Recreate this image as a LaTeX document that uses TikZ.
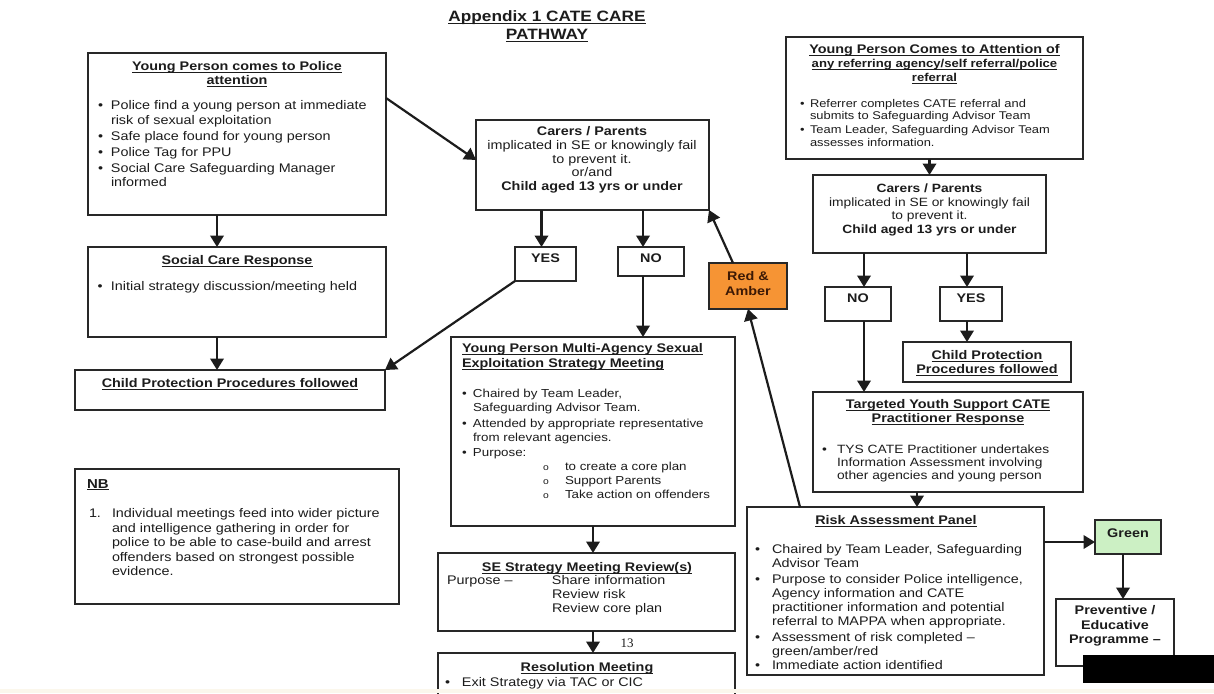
\documentclass[tikz,border=0pt]{standalone}
\usepackage{fontspec}
\setmainfont{Liberation Sans}[FakeStretch=1.15]
\newfontfamily\pagenumfont{Liberation Serif}
\usetikzlibrary{arrows.meta}

\definecolor{ink}{RGB}{28,28,28}
\definecolor{edge}{RGB}{40,40,40}
\definecolor{amber}{RGB}{246,148,52}
\definecolor{amberink}{RGB}{60,25,5}
\definecolor{greenfill}{RGB}{204,240,196}
\definecolor{paper}{RGB}{251,247,236}

% underline at a fixed depth below the baseline
\newcommand{\ulx}[1]{\leavevmode\setbox0\hbox{#1}\rlap{\rule[-0.17em]{\wd0}{0.075em}}\box0}
% bullet of a given box width, and the matching hanging indent
\newcommand{\bulx}[1]{\makebox[#1][l]{\textbullet}}
\newcommand{\skx}[1]{\hspace*{#1}}
\newcommand{\fsz}[2]{\fontsize{#1}{#2}\selectfont}
\newcommand{\subo}{{\fsz{9}{9}o}}

\begin{document}
\begin{tikzpicture}[x=1pt,y=-1pt,
  box/.style={draw=edge, line width=1.3pt, inner sep=0pt, outer sep=0pt},
  arr/.style={draw=ink, line width=2.2pt, -{Triangle[length=11.5pt,width=13.5pt]}},
  lbl/.style={inner sep=0pt, outer sep=0pt, text=ink, anchor=north, align=center, font=\fsz{12.5}{14}},
  head/.style={lbl, font=\bfseries\fsz{12.5}{14}},
  para/.style={lbl, anchor=north west, align=left}]
\useasboundingbox (0,0) rectangle (1214,693);

% ---------- title ----------
\node[lbl, font=\bfseries\fsz{15}{18}] (title) at (547,10.6)
  {\ulx{Appendix 1 CATE CARE}\\\ulx{PATHWAY}};

% ---------- boxes ----------
\node[box, minimum width=298pt, minimum height=162pt] (A) at (237,134) {};
\node[box, minimum width=298pt, minimum height=90pt] (SC) at (237,292) {};
\node[box, minimum width=310pt, minimum height=40pt] (CPL) at (230,390) {};
\node[box, minimum width=324pt, minimum height=135pt] (NB) at (237,536.5) {};
\node[box, minimum width=233pt, minimum height=90pt] (B) at (592.5,165) {};
\node[box, minimum width=61pt, minimum height=34pt] (YESM) at (545.5,264) {};
\node[box, minimum width=66pt, minimum height=29pt] (NOM) at (651,261.5) {};
\node[box, fill=amber, minimum width=78pt, minimum height=46pt] (RA) at (748,286) {};
\node[box, minimum width=284pt, minimum height=189pt] (MA) at (593,431.5) {};
\node[box, minimum width=297pt, minimum height=78pt] (SE) at (586.5,592) {};
\node[box, minimum width=297pt, minimum height=52pt] (RES) at (586.5,679) {};
\node[box, minimum width=297pt, minimum height=122pt] (R1) at (934.5,98) {};
\node[box, minimum width=233pt, minimum height=78pt] (R2) at (929.5,214) {};
\node[box, minimum width=66pt, minimum height=34pt] (NOR) at (858,304) {};
\node[box, minimum width=62pt, minimum height=34pt] (YESR) at (971,304) {};
\node[box, minimum width=168pt, minimum height=40pt] (CPR) at (987,362) {};
\node[box, minimum width=270pt, minimum height=100pt] (TYS) at (948,442) {};
\node[box, minimum width=297pt, minimum height=168pt] (RISK) at (895.5,591) {};
\node[box, fill=greenfill, minimum width=66pt, minimum height=34pt] (GREEN) at (1128,537) {};
\node[box, minimum width=118pt, minimum height=67pt] (PREV) at (1115,632.5) {};

% ---------- left column ----------
\node[head] (Ahead) at (237,61.5)
  {\ulx{Young Person comes to Police}\\\ulx{attention}};
\node[para, font=\fsz{12.5}{14.5}] (Abody) at (98,100.5)
  {\bulx{13pt}Police find a young person at immediate\\
   \skx{13pt}risk of sexual exploitation\\[1.5pt]
   \bulx{13pt}Safe place found for young person\\[1.5pt]
   \bulx{13pt}Police Tag for PPU\\[1.5pt]
   \bulx{13pt}Social Care Safeguarding Manager\\
   \skx{13pt}informed};

\node[head] (SChead) at (237,255.5) {\ulx{Social Care Response}};
\node[para] (SCbody) at (97.5,281.5) {\bulx{13.5pt}Initial strategy discussion/meeting held};

\node[head] (CPLtext) at (230,378.5) {\ulx{Child Protection Procedures followed}};

\node[para, font=\bfseries\fsz{13}{14}] (NBhead) at (87,479.3) {\ulx{NB}};
\node[para, font=\fsz{12.5}{14.5}] (NBbody) at (89,508.5)
  {\makebox[23pt][l]{1.}Individual meetings feed into wider picture\\
   \skx{23pt}and intelligence gathering in order for\\
   \skx{23pt}police to be able to case-build and arrest\\
   \skx{23pt}offenders based on strongest possible\\
   \skx{23pt}evidence.};

% ---------- middle column ----------
\node[lbl, font=\fsz{12.5}{13.75}] (Btext) at (592,126.5)
  {\textbf{Carers / Parents}\\implicated in SE or knowingly fail\\to prevent it.\\or/and\\\textbf{Child aged 13 yrs or under}};

\node[head] (YESMt) at (545.5,253.5) {YES};
\node[head] (NOMt) at (651,253.5) {NO};
\node[lbl, font=\bfseries\fsz{12.5}{15}, text=amberink] (RAt) at (748,271.5) {Red \&\\Amber};

\node[para, font=\bfseries\fsz{12.5}{15}] (MAhead) at (462,343.5)
  {\ulx{Young Person Multi-Agency Sexual}\\\ulx{Exploitation Strategy Meeting}};
\node[para, font=\fsz{11.6}{14}] (MAbody) at (462,389)
  {\bulx{11pt}Chaired by Team Leader,\\
   \skx{11pt}Safeguarding Advisor Team.\\[2pt]
   \bulx{11pt}Attended by appropriate representative\\
   \skx{11pt}from relevant agencies.\\[1pt]
   \bulx{11pt}Purpose:\\
   \skx{81pt}\makebox[22pt][l]{\subo}to create a core plan\\
   \skx{81pt}\makebox[22pt][l]{\subo}Support Parents\\
   \skx{81pt}\makebox[22pt][l]{\subo}Take action on offenders};

\node[head] (SEhead) at (587,562.5) {\ulx{SE Strategy Meeting Review(s)}};
\node[para] (SEbody) at (447,575.5)
  {\makebox[105pt][l]{Purpose –}Share information\\
   \skx{105pt}Review risk\\
   \skx{105pt}Review core plan};

\node[inner sep=0pt, font=\pagenumfont\fsz{13}{14}, text=ink] (pagenum) at (627,643) {13};

\node[head] (REShead) at (587,662.5) {\ulx{Resolution Meeting}};
\node[para] (RESbody) at (445,677.5) {\bulx{17pt}Exit Strategy via TAC or CIC};

% ---------- right column ----------
\node[head] (R1head) at (934.5,44.5)
  {\ulx{Young Person Comes to Attention of}\\
   {\fsz{11.4}{14}\ulx{any referring agency/self referral/police}}\\
   {\fsz{11.4}{14}\ulx{referral}}};
\node[para, font=\fsz{11.2}{12.5}] (R1body) at (800,99)
  {\bulx{10pt}Referrer completes CATE referral and\\
   \skx{10pt}submits to Safeguarding Advisor Team\\[1.5pt]
   \bulx{10pt}Team Leader, Safeguarding Advisor Team\\
   \skx{10pt}assesses information.};

\node[lbl, font=\fsz{12}{13.7}] (R2text) at (929.5,183.7)
  {\textbf{Carers / Parents}\\implicated in SE or knowingly fail\\to prevent it.\\\textbf{Child aged 13 yrs or under}};

\node[head] (NORt) at (858,293.5) {NO};
\node[head] (YESRt) at (971,293.5) {YES};

\node[head] (CPRtext) at (987,350.5) {\ulx{Child Protection}\\\ulx{Procedures followed}};

\node[head] (TYShead) at (948,399.5)
  {\ulx{Targeted Youth Support CATE}\\\ulx{Practitioner Response}};
\node[para, font=\fsz{12}{13}] (TYSbody) at (822,444.7)
  {\bulx{15pt}TYS CATE Practitioner undertakes\\
   \skx{15pt}Information Assessment involving\\
   \skx{15pt}other agencies and young person};

\node[head] (RISKhead) at (896,515.5) {\ulx{Risk Assessment Panel}};
\node[para] (RISKbody) at (755,544.5)
  {\bulx{17pt}Chaired by Team Leader, Safeguarding\\
   \skx{17pt}Advisor Team\\[2pt]
   \bulx{17pt}Purpose to consider Police intelligence,\\
   \skx{17pt}Agency information and CATE\\
   \skx{17pt}practitioner information and potential\\
   \skx{17pt}referral to MAPPA when appropriate.\\[2pt]
   \bulx{17pt}Assessment of risk completed –\\
   \skx{17pt}green/amber/red\\
   \bulx{17pt}Immediate action identified};

\node[head] (GREENt) at (1128,528.5) {Green};
\node[lbl, font=\bfseries\fsz{12.5}{14.5}] (PREVt) at (1115,605.5) {Preventive /\\Educative\\Programme –};

% ---------- connectors ----------
\coordinate (a1) at ([xshift=-20pt]A.south);
\draw[arr] (a1) -- (a1 |- SC.north);
\draw[arr] (a1 |- SC.south) -- (a1 |- CPL.north);
\draw[arr] ([yshift=36pt]A.east) -- ([yshift=5pt]B.west);

\coordinate (ym) at ([xshift=-4pt]YESM.north);
\coordinate (nm) at ([xshift=-8pt]NOM.north);
\draw[arr] (ym |- B.south) -- (ym);
\draw[arr] (nm |- B.south) -- (nm);
\draw[arr] (nm |- NOM.south) -- (nm |- MA.north);
\draw[arr] (YESM.south west) -- (CPL.north east);

\draw[arr] ([xshift=-15pt]RA.north) -- (B.south east);
\draw[arr] ([xshift=-95.5pt]RISK.north) -- (RA.south);

\draw[arr] (MA.south) -- (MA.south |- SE.north);
\draw[arr] (MA.south |- SE.south) -- (MA.south |- RES.north);

\draw[arr] (R2.north |- R1.south) -- (R2.north);
\coordinate (nr) at ([xshift=6pt]NOR.north);
\coordinate (yr) at ([xshift=-4pt]YESR.north);
\draw[arr] (nr |- R2.south) -- (nr);
\draw[arr] (yr |- R2.south) -- (yr);
\draw[arr] (yr |- YESR.south) -- (yr |- CPR.north);
\draw[arr] (nr |- NOR.south) -- (nr |- TYS.north);
\coordinate (tr) at ([xshift=-31pt]TYS.south);
\draw[arr] (tr) -- (tr |- RISK.north);
\coordinate (gw) at ([yshift=-5pt]GREEN.west);
\draw[arr] (gw -| RISK.east) -- (gw);
\coordinate (gp) at ([xshift=-5pt]GREEN.south);
\draw[arr] (gp) -- (gp |- PREV.north);

% ---------- cover block and page edge ----------
\node[fill=black, draw=none, inner sep=0pt, minimum width=131pt, minimum height=28pt] (cover) at (1148.5,669) {};
\fill[paper] (0,688.5) rectangle (1214,693);
\end{tikzpicture}
\end{document}
